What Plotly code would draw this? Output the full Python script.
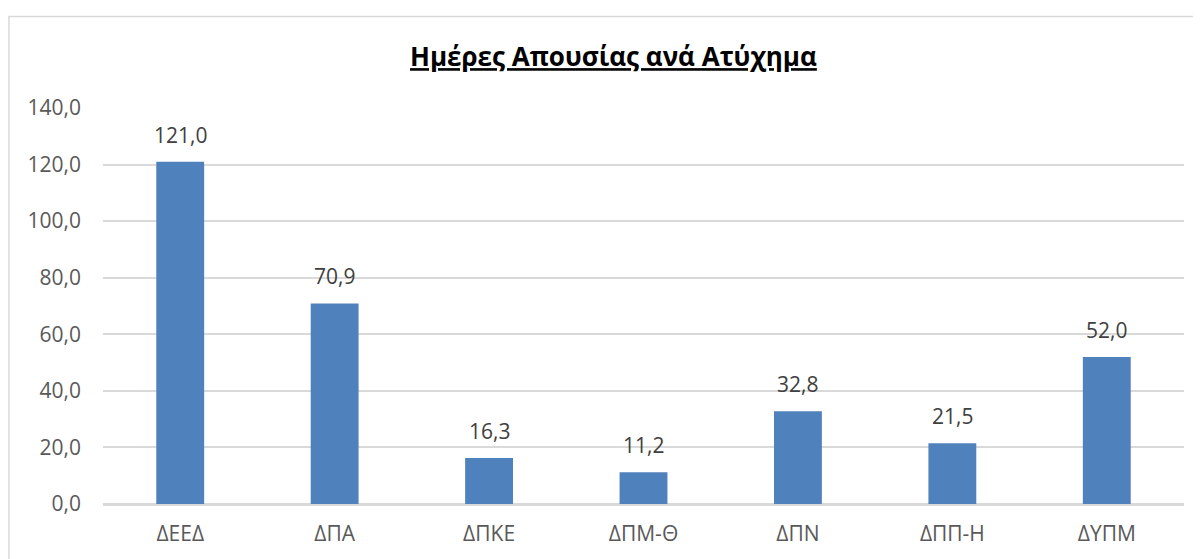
import plotly.graph_objects as go

categories = ["ΔΕΕΔ", "ΔΠΑ", "ΔΠΚΕ", "ΔΠΜ-Θ", "ΔΠΝ", "ΔΠΠ-Η", "ΔΥΠΜ"]
days_lost = [121.0, 70.9, 16.3, 11.2, 32.8, 21.5, 52.0]
y_ticks = [0, 20, 40, 60, 80, 100, 120, 140]

font_family = "Open Sans, DejaVu Sans, sans-serif"

fig = go.Figure()
fig.add_trace(go.Bar(
    x=categories,
    y=days_lost,
    marker=dict(color="#4F81BD", line=dict(width=0)),
    hoverinfo="x+y",
))

# value labels above bars
for cat, val in zip(categories, days_lost):
    fig.add_annotation(
        x=cat, y=val, text=f"{val:.1f}".replace(".", ","),
        showarrow=False, yanchor="bottom", yshift=11,
        font=dict(family=font_family, size=21, color="#404040"),
    )

# outer chart border
fig.add_shape(
    type="rect", xref="paper", yref="paper",
    x0=-0.0870, x1=1.05, y0=-0.3, y1=1.231,
    line=dict(color="#D9D9D9", width=1.5), fillcolor="rgba(0,0,0,0)",
    layer="below",
)

fig.update_layout(
    width=1193, height=551,
    paper_bgcolor="white", plot_bgcolor="white",
    margin=dict(l=95, r=17, t=100, b=48),
    separators=",.",
    bargap=0.69,
    showlegend=False,
    title=dict(
        text="<b>Ημέρες Απουσίας ανά Ατύχημα</b>",
        x=0.5075, xanchor="center", y=0.911, yanchor="middle",
        font=dict(family=font_family, size=26, color="black", lineposition="under"),
    ),
    xaxis=dict(
        showgrid=False, showline=True, linecolor="#D9D9D9", linewidth=1.5,
        ticks="", ticklabelstandoff=10,
        tickfont=dict(family=font_family, size=21, color="#595959"),
    ),
    yaxis=dict(
        range=[0, 140], tickvals=y_ticks, tickformat=".1f",
        showgrid=True, gridcolor="#D9D9D9", gridwidth=1.5,
        zeroline=True, zerolinecolor="#D9D9D9", zerolinewidth=1.5,
        ticks="", ticklabelstandoff=21,
        tickfont=dict(family=font_family, size=21, color="#595959"),
    ),
)

fig.write_html("out.html")
